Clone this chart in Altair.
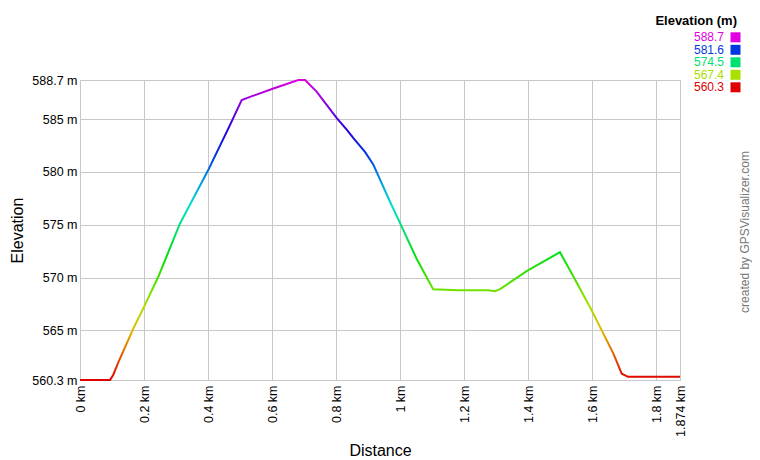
import colorsys
import altair as alt
import pandas as pd

# ---- data ----
distance_km = [0, 0.094, 0.104, 0.12, 0.167, 0.198, 0.245, 0.312, 0.401, 0.468,
               0.505, 0.531, 0.604, 0.682, 0.703, 0.739, 0.802, 0.833, 0.854, 0.890,
               0.916, 0.968, 0.999, 1.051, 1.103, 1.181, 1.275, 1.296, 1.312, 1.395,
               1.499, 1.541, 1.598, 1.666, 1.692, 1.712, 1.874]
elevation_m = [560.3, 560.3, 560.8, 562.0, 565.2, 567.1, 570.1, 575.1, 580.2, 584.4,
               586.8, 587.1, 587.9, 588.7, 588.7, 587.6, 585.1, 584.0, 583.2, 581.9,
               580.7, 577.2, 575.2, 571.8, 568.9, 568.8, 568.8, 568.7, 568.9, 570.6,
               572.4, 570.1, 566.9, 562.8, 560.9, 560.6, 560.6]
x_ticks = [0, 0.2, 0.4, 0.6, 0.8, 1, 1.2, 1.4, 1.6, 1.8, 1.874]
y_ticks = [560.3, 565, 570, 575, 580, 585, 588.7]
legend_labels = ["588.7", "581.6", "574.5", "567.4", "560.3"]

EMIN, EMAX = 560.3, 588.7
FONT = "Liberation Sans"


def hue_color(f):
    r, g, b = colorsys.hsv_to_rgb(300.0 * f / 360.0, 1.0, 0.88)
    return "#%02x%02x%02x" % (int(r * 255), int(g * 255), int(b * 255))


stops = [alt.GradientStop(offset=i / 12, color=hue_color(i / 12)) for i in range(13)]
legend_colors = [hue_color((float(v) - EMIN) / (EMAX - EMIN)) for v in legend_labels]

df = pd.DataFrame({"dist": distance_km, "elev": elevation_m})
leg = pd.DataFrame({"label": legend_labels})

W, H = 600, 300

line = alt.Chart(df).mark_line(
    strokeWidth=2,
    stroke=alt.Gradient(gradient="linear", stops=stops, x1=0, x2=0, y1=1, y2=0),
).encode(
    x=alt.X("dist:Q",
            scale=alt.Scale(domain=[0, 1.874], nice=False, zero=False),
            axis=alt.Axis(values=x_ticks, labelExpr="datum.value + ' km'",
                          labelAngle=270, labelAlign="right", labelBaseline="middle",
                          labelPadding=5, ticks=False, title="Distance",
                          titleFontSize=16, titleFontWeight="normal",
                          titleY=75, titleBaseline="alphabetic",
                          labelFontSize=12.5,
                          labelFlush=False, labelOverlap=False,
                          grid=True, gridColor="#c8c8c8", domainColor="#c8c8c8")),
    y=alt.Y("elev:Q",
            scale=alt.Scale(domain=[EMIN, EMAX], nice=False, zero=False),
            axis=alt.Axis(values=y_ticks, labelExpr="datum.value + ' m'",
                          labelPadding=3, ticks=False, title="Elevation",
                          titleFontSize=16, titleFontWeight="normal",
                          titleX=-58, titleY=H / 2, titleAngle=270,
                          titleAlign="center", titleBaseline="alphabetic",
                          labelFontSize=12.5,
                          labelFlush=False, labelOverlap=False,
                          grid=True, gridColor="#c8c8c8", domainColor="#c8c8c8")),
)

leg_y = alt.Y("label:N", sort=None,
              scale=alt.Scale(type="point", domain=legend_labels, range=[-42.7, 7.3], padding=0),
              axis=None)
leg_color = alt.Color("label:N", sort=None,
                      scale=alt.Scale(domain=legend_labels, range=legend_colors), legend=None)

leg_text = alt.Chart(leg).mark_text(
    align="right", baseline="middle", font=FONT, fontSize=12
).encode(x=alt.value(644), y=leg_y, color=leg_color, text="label:N")

leg_sq = alt.Chart(leg).mark_square(size=100, opacity=1, filled=True).encode(
    x=alt.value(655.5), y=leg_y, color=leg_color)

leg_title = alt.Chart(pd.DataFrame({"t": ["Elevation (m)"]})).mark_text(
    align="right", baseline="middle", font=FONT, fontSize=13, fontWeight="bold", color="#000"
).encode(x=alt.value(657), y=alt.value(-59), text="t:N")

credit = alt.Chart(pd.DataFrame({"t": ["created by GPSVisualizer.com"]})).mark_text(
    align="center", baseline="alphabetic", angle=270, font=FONT, fontSize=12, color="#777"
).encode(x=alt.value(669), y=alt.value(152), text="t:N")

chart = alt.layer(line, leg_text, leg_sq, leg_title, credit).resolve_scale(
    y="independent", color="independent"
).properties(
    width=W, height=H,
    autosize=alt.AutoSizeParams(type="none"),
    padding={"left": 72, "top": 72, "right": 72, "bottom": 80},
).configure_view(stroke=None).configure_axis(
    labelFont=FONT, titleFont=FONT, labelFontSize=12, labelColor="#000", titleColor="#000"
)

chart.save("out.html", embed_options={"renderer": "svg", "actions": False})
